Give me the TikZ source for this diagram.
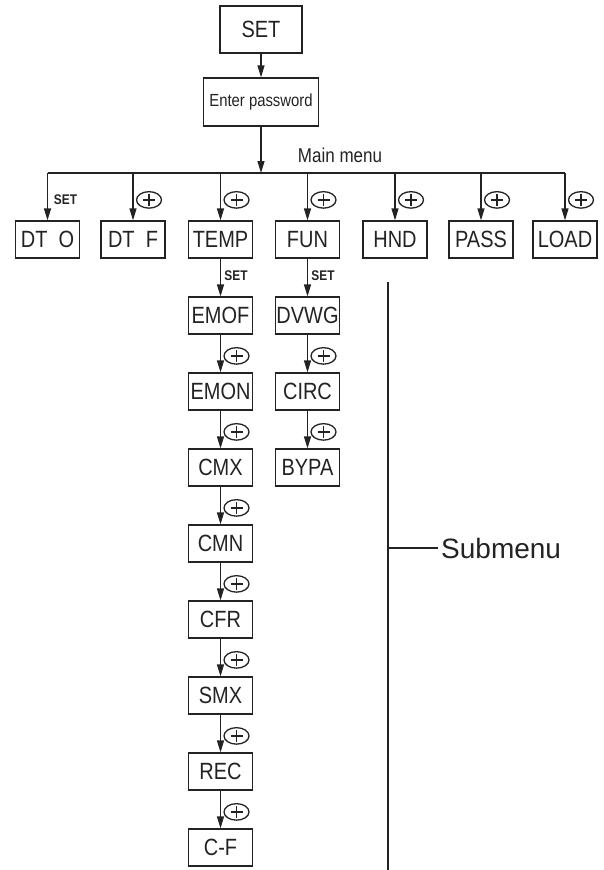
\documentclass[tikz,border=0pt]{standalone}
\usepackage{fontspec}
\setmainfont{Liberation Sans}[FakeStretch=0.85]
\newfontfamily\subfont{Liberation Sans}
\usetikzlibrary{arrows.meta,shapes.geometric,calc}
\definecolor{ink}{RGB}{35,35,35}

\tikzset{
  menubox/.style={draw=ink, line width=1.2pt, minimum width=64pt, minimum height=37pt, inner sep=0pt, text=ink, font=\fontsize{23.5}{24}\selectfont},
  arr/.style={draw=ink, line width=1.2pt, -{Triangle[length=12pt,width=7pt]}},
  wire/.style={draw=ink, line width=1.2pt},
  setkey/.style={text=ink, inner sep=0pt, font=\bfseries\fontsize{14}{14}\selectfont},
  pluskey/.style={ellipse, draw=ink, line width=1.3pt, minimum width=25pt, minimum height=16.5pt, inner sep=0pt,
    path picture={\draw[ink, line width=1.3pt] ([xshift=-6pt]path picture bounding box.center) -- ([xshift=6pt]path picture bounding box.center)
      ([yshift=-6pt]path picture bounding box.center) -- ([yshift=6pt]path picture bounding box.center);}}
}

\begin{document}
\begin{tikzpicture}[x=1pt,y=-1pt]
	\useasboundingbox (0,0) rectangle (604,870);
	% top of the menu
	\node[menubox, minimum width=82pt, minimum height=47pt] (set) at (261,29.5) {SET};
	\node[menubox, minimum width=115pt, minimum height=48pt, font=\fontsize{17.5}{18}\selectfont] (pw) at (261,102) {Enter password};
	\draw[arr] (set) -- (pw);
	\coordinate (bus) at (261,173);
	\draw[arr] (pw) -- (bus);
	\node[text=ink, font=\fontsize{20}{20}\selectfont] (mainlbl) at (340,155) {Main menu};
	% main menu row
	\foreach \name/\txt/\x in {dto/DT~~O/47.5, dtf/DT~~F/133, temp/TEMP/220.5, fun/FUN/307.5, hnd/HND/395, pass/PASS/481, load/LOAD/565}
		\node[menubox] (\name) at (\x,239.5) {\txt};
	\draw[wire] (dto.north |- bus) -- (load.north |- bus);
	\foreach \name in {dto,dtf,temp,fun,hnd,pass,load}
		\draw[arr] (\name.north |- bus) -- (\name);
	\node[setkey] (k0) at ($(dto.north)+(18,-21)$) {SET};
	\foreach \name [count=\i] in {dtf,temp,fun,hnd,pass,load}
		\node[pluskey] (p\i) at ($(\name.north)+(16,-20.5)$) {};
	% TEMP submenu
	\foreach \name/\txt [count=\i from 0] in {emof/EMOF, emon/EMON, cmx/CMX, cmn/CMN, cfr/CFR, smx/SMX, rec/REC, cf/C-F}
		\node[menubox] (\name) at (220.5,{315.5+76*\i}) {\txt};
	\draw[arr] (temp) -- (emof);
	\node[setkey] (k1) at ($(emof.north)+(15.5,-21)$) {SET};
	\foreach \a/\b [count=\i] in {emof/emon, emon/cmx, cmx/cmn, cmn/cfr, cfr/smx, smx/rec, rec/cf} {
		\draw[arr] (\a) -- (\b);
		\node[pluskey] (tp\i) at ($(\b.north)+(16,-16.5)$) {};
	}
	% FUN submenu
	\foreach \name/\txt [count=\i from 0] in {dvwg/DVWG, circ/CIRC, bypa/BYPA}
		\node[menubox] (\name) at (307.5,{315.5+76*\i}) {\txt};
	\draw[arr] (fun) -- (dvwg);
	\node[setkey] (k2) at ($(dvwg.north)+(15.5,-21)$) {SET};
	\foreach \a/\b [count=\i] in {dvwg/circ, circ/bypa} {
		\draw[arr] (\a) -- (\b);
		\node[pluskey] (fp\i) at ($(\b.north)+(16,-16.5)$) {};
	}
	% submenu bracket
	\coordinate (subtop) at (388,282);
	\coordinate (subbot) at (388,870);
	\draw[wire] (subtop) -- (subbot);
	\node[anchor=west, text=ink, inner sep=3pt, font=\subfont\fontsize{28}{28}\selectfont] (sublbl) at (438,548) {Submenu};
	\draw[wire] (subtop |- sublbl) -- (sublbl.west);
\end{tikzpicture}
\end{document}
